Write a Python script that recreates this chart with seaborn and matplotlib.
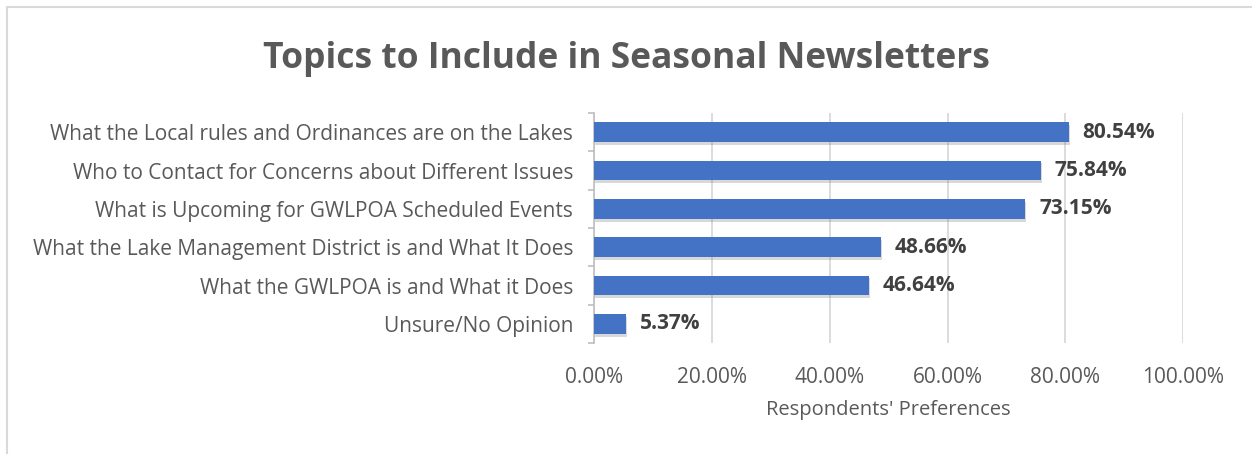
import numpy as np
import pandas as pd
import matplotlib
matplotlib.use("Agg")
import matplotlib.pyplot as plt
import matplotlib.patheffects as pe
from matplotlib.lines import Line2D
import seaborn as sns

topics = [
    "What the Local rules and Ordinances are on the Lakes",
    "Who to Contact for Concerns about Different Issues",
    "What is Upcoming for GWLPOA Scheduled Events",
    "What the Lake Management District is and What It Does",
    "What the GWLPOA is and What it Does",
    "Unsure/No Opinion",
]
shares = [80.54, 75.84, 73.15, 48.66, 46.64, 5.37]
x_ticks = [0, 20, 40, 60, 80, 100]

df = pd.DataFrame({"Topic": topics, "Share": shares})

sns.set_theme(style="white")
plt.rcParams["font.family"] = ["Open Sans", "DejaVu Sans"]

grey = "#595959"
fig = plt.figure(figsize=(12.52, 4.54), dpi=100)
ax = fig.add_axes([0.4745, 0.2445, 0.4705, 0.5065])

sns.barplot(data=df, x="Share", y="Topic", color="#4472C4", width=0.52,
            saturation=1, ax=ax, zorder=3)
for bar in ax.patches:
    bar.set_path_effects([pe.SimplePatchShadow(offset=(1, -2), shadow_rgbFace="#7f7f7f",
                                               alpha=0.3),
                          pe.Normal()])
    bar.set_edgecolor("none")

for i, v in enumerate(shares):
    ax.text(v + 2.4, i, f"{v:.2f}%", va="center", ha="left", fontsize=15,
            fontweight="bold", color="#404040")

ax.set_xlim(0, 100)
ax.set_ylim(len(topics) - 0.5, -0.5)
ax.set_xticks(x_ticks)
ax.set_xticklabels([f"{t:.2f}%" for t in x_ticks], fontsize=15, color=grey)
ax.tick_params(axis="x", length=0, pad=17)
ax.xaxis.grid(True, color="#d9d9d9", linewidth=1.3, zorder=0)
ax.set_xlabel("Respondents' Preferences", fontsize=14.5, color=grey, labelpad=9)
ax.set_ylabel("")

ax.set_yticks(range(len(topics)))
ax.set_yticklabels(topics, fontsize=15, color=grey)
ax.set_yticks(np.arange(-0.5, len(topics)), minor=True)
ax.tick_params(axis="y", which="major", length=0, pad=15)
ax.tick_params(axis="y", which="minor", length=4, width=1.2, color="#bfbfbf",
               direction="out", left=True)

for s in ["top", "right", "bottom"]:
    ax.spines[s].set_visible(False)
ax.spines["left"].set_color("#bfbfbf")
ax.spines["left"].set_linewidth(1.2)

fig.suptitle("Topics to Include in Seasonal Newsletters", x=0.5, y=0.91,
             fontsize=25.5, fontweight="bold", color=grey)

# chart frame (only top and left edges show in the crop)
fig.add_artist(Line2D([0.0055, 1.0], [0.984, 0.984], color="#d9d9d9", lw=1.5))
fig.add_artist(Line2D([0.0055, 0.0055], [0.0, 0.984], color="#d9d9d9", lw=1.5))

plt.savefig("out.png", dpi=100, facecolor="white")
plt.close()
